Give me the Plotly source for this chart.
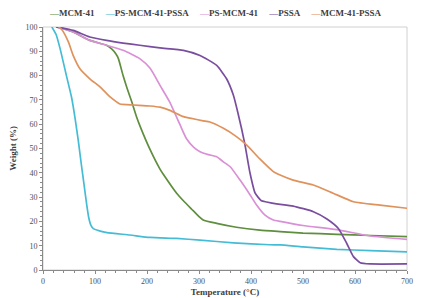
import plotly.graph_objects as go

# ---- data ----
t_mcm41 = [25, 29, 58, 90, 122, 132, 140, 145, 154, 162, 171, 180, 187, 206, 225, 231, 257, 270, 286, 300, 308, 334, 372, 417, 456, 500, 565, 630, 700]
w_mcm41 = [100, 100, 98, 94.5, 92.5, 91, 89, 87, 80, 74.6, 69, 63, 59, 49.5, 41.5, 39.5, 31.6, 28.5, 25, 22, 20.6, 19.2, 17.6, 16.4, 15.8, 15.2, 14.7, 14.2, 13.7]

t_ps_mcm_pssa = [17, 25, 33, 45, 55, 62, 68, 74, 79, 84, 88, 92, 97, 110, 123, 167, 206, 257, 302, 366, 436, 456, 500, 565, 630, 700]
w_ps_mcm_pssa = [100, 97, 91, 80, 71, 62, 53, 43, 35, 27, 21.5, 18.5, 17, 16, 15.4, 14.4, 13.4, 13, 12.3, 11.2, 10.4, 10.3, 9.5, 8.5, 8, 7.5]

t_ps_mcm = [25, 58, 90, 122, 154, 186, 206, 225, 244, 263, 276, 290, 302, 318, 334, 347, 360, 379, 398, 410, 427, 443, 456, 500, 565, 629, 700]
w_ps_mcm = [100, 98, 94.5, 92.5, 90.4, 87, 83, 76, 69, 60, 54, 50.5, 48.7, 47.5, 46.6, 44.5, 42.5, 37, 31, 27, 22.6, 20.6, 20, 18.3, 16.6, 14, 12.6]

t_pssa = [25, 58, 90, 122, 154, 186, 225, 270, 302, 334, 353, 366, 375, 388, 398, 408, 420, 430, 449, 481, 520, 546, 568, 584, 597, 610, 629, 700]
w_pssa = [100, 98.6, 95.9, 94.5, 93.4, 92.5, 91.4, 90.4, 88.3, 84.2, 78.7, 72, 64.5, 52, 40, 31.6, 28.5, 28, 27.2, 26.3, 24, 21, 17.1, 11, 5.5, 3, 2.5, 2.5]

t_mcm_pssa = [30, 36, 49, 58, 71, 90, 110, 129, 142, 148, 174, 206, 225, 244, 270, 283, 308, 321, 347, 372, 392, 417, 443, 456, 481, 520, 558, 597, 648, 700]
w_mcm_pssa = [100, 99, 93.8, 88.3, 82.8, 78.7, 75.3, 71.2, 69.1, 68.3, 67.9, 67.5, 67, 65.7, 63.1, 62.5, 61.4, 60.9, 58.3, 54.9, 51.4, 45.7, 40.5, 39.1, 37, 35, 31.6, 28.1, 26.7, 25.4]

series_names = ["MCM-41", "PS-MCM-41-PSSA", "PS-MCM-41", "PSSA", "MCM-41-PSSA"]
series_t = [t_mcm41, t_ps_mcm_pssa, t_ps_mcm, t_pssa, t_mcm_pssa]
series_w = [w_mcm41, w_ps_mcm_pssa, w_ps_mcm, w_pssa, w_mcm_pssa]
colors = ["#5E8E3E", "#45BCD6", "#DA90D6", "#7A4E9E", "#E0925C"]

x_ticks = [0, 100, 200, 300, 400, 500, 600, 700]
y_ticks = [0, 10, 20, 30, 40, 50, 60, 70, 80, 90, 100]

FONT = "Liberation Serif"

fig = go.Figure()
for name, t, w, c in zip(series_names, series_t, series_w, colors):
    fig.add_trace(go.Scatter(x=t, y=w, name=name, mode="lines",
                             line=dict(color=c, width=1.7, shape="spline", smoothing=0.5),
                             showlegend=False))

# custom compact legend as text
parts = []
for name, c in zip(series_names, colors):
    parts.append(f"<b><span style='color:{c}'>\u2014</span>{name}</b>")
legend_text = "&nbsp;&nbsp;&nbsp;&nbsp;&nbsp;".join(parts)
fig.add_annotation(text=legend_text, xref="paper", yref="paper", x=0.475, y=1.058,
                   xanchor="center", yanchor="middle", showarrow=False,
                   font=dict(family=FONT, size=9, color="#404040"))

# light frame around plot area
fig.add_shape(type="rect", xref="paper", yref="paper", x0=0, y0=0, x1=1, y1=1,
              line=dict(color="#D0D0D0", width=1), layer="below")

axis_common = dict(showgrid=False, zeroline=False, showline=True, linecolor="#8A8A8A", linewidth=1,
                   ticks="outside", ticklen=3, tickcolor="#8A8A8A", automargin=False,
                   tickfont=dict(family=FONT, size=8, color="#505050"))

fig.update_xaxes(range=[0, 700], tickvals=x_ticks, ticktext=[str(v) for v in x_ticks],
                 minor=dict(dtick=20, ticks="outside", ticklen=2, tickcolor="#8A8A8A"),
                 title=dict(text="<b>Temperature (°C)</b>", font=dict(family=FONT, size=9, color="#404040"), standoff=4),
                 **axis_common)
fig.update_yaxes(range=[0, 100], tickvals=y_ticks, ticktext=[str(v) for v in y_ticks],
                 minor=dict(dtick=2, ticks="outside", ticklen=2, tickcolor="#8A8A8A"),
                 title=dict(text="<b>Weight (%)</b>", font=dict(family=FONT, size=9, color="#404040"), standoff=8),
                 **axis_common)

# page body has an 8px default margin, so the figure is sized to compensate
fig.update_layout(width=417, height=290, margin=dict(l=35, r=18, t=19, b=28),
                  paper_bgcolor="white", plot_bgcolor="white")

fig.write_html("out.html")
